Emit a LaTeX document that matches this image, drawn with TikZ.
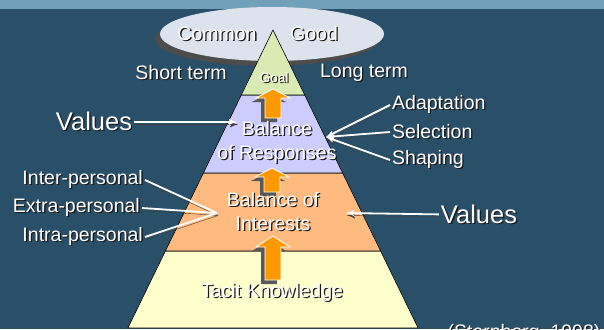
\documentclass[tikz,border=0pt]{standalone}
\usepackage{fontspec}
\setmainfont{Liberation Sans}
\usetikzlibrary{arrows}

\definecolor{bgblue}{RGB}{42,79,104}
\definecolor{topblue}{RGB}{112,160,186}
\definecolor{cloud}{RGB}{221,227,236}
\definecolor{goalgreen}{RGB}{217,235,178}
\definecolor{resplilac}{RGB}{204,204,255}
\definecolor{intorange}{RGB}{255,187,127}
\definecolor{tacityellow}{RGB}{255,255,204}
\definecolor{arrorange}{RGB}{255,153,0}

% text with a dark drop shadow
\newcommand\shd[1]{\leavevmode\rlap{\kern1.3pt\raisebox{-1.3pt}{\color{black!90}#1}}#1}

\begin{document}
\begin{tikzpicture}
			[x=1pt,y=-1pt,
			every node/.style={text=white,inner sep=2pt,font=\fontsize{19.5}{24}\selectfont},
			big/.style={font=\fontsize{25.5}{30}\selectfont},
			level/.style={draw=black,line width=0.6pt},
			uparrow/.style={fill=arrorange,draw=white,line width=0.8pt,
				preaction={fill=black!65,draw=none,transform canvas={shift={(-4pt,-4pt)}}}},
			link/.style={draw=white,line width=1.8pt,
				preaction={draw=black!75,transform canvas={shift={(1pt,-2.5pt)}}}},
			edge/.style={link,-latex'}]
			\useasboundingbox (0,0) rectangle (604,329);
			\fill[bgblue] (0,0) rectangle (604,329);
			\fill[topblue] (0,0) rectangle (604,9);
			
			% common good
			\fill[black!70] (267,39) ellipse [x radius=112,y radius=27];
			\fill[cloud] (272,34) ellipse [x radius=112,y radius=27];
			
			% pyramid
			\filldraw[level,fill=tacityellow] (165.4,251) -- (380.6,251) -- (418.1,328) -- (127.9,328) -- cycle;
			\filldraw[level,fill=intorange] (203.4,173) -- (342.6,173) -- (380.6,251) -- (165.4,251) -- cycle;
			\filldraw[level,fill=resplilac] (241.3,95) -- (304.7,95) -- (342.6,173) -- (203.4,173) -- cycle;
			\filldraw[level,fill=goalgreen] (273,30) -- (304.7,95) -- (241.3,95) -- cycle;
			
			\foreach \x/\t/\h/\b in {273/236/247/280, 272/168/177/192, 273/89/98/118}
			\filldraw[uparrow] (\x,\t) -- (\x+17,\h) -- (\x+8,\h) -- (\x+8,\b) -- (\x-8,\b) -- (\x-8,\h) -- (\x-17,\h) -- cycle;
			
			\node (common) at (217,34) {\shd{Common}};
			\node (good) at (314,34) {\shd{Good}};
			\node (short) at (181,73) {\shd{Short term}};
			\node (long) at (364,73) {\shd{Long term}};
			\node[font=\fontsize{13.5}{15}\selectfont] (goal) at (274,78) {\shd{Goal}};
			\node[align=center] (resp) at (277,143) {\shd{Balance}\\\shd{of Responses}};
			\node[align=center] (inter) at (273,212) {\shd{Balance of}\\\shd{Interests}};
			\node (tacit) at (272,293) {\shd{Tacit Knowledge}};
			
			\node[big] (valL) at (94,122) {\shd{Values}};
			\node[big] (valR) at (479,215) {\shd{Values}};
			\node[anchor=west] (adapt) at (390,105) {\shd{Adaptation}};
			\node[anchor=west] (select) at (390,132) {\shd{Selection}};
			\node[anchor=west] (shape) at (390,160) {\shd{Shaping}};
			\node[anchor=east] (interp) at (145,180) {\shd{Inter-personal}};
			\node[anchor=east] (extrap) at (142,208) {\shd{Extra-personal}};
			\node[anchor=east] (intrap) at (145,237) {\shd{Intra-personal}};
			\node[anchor=north,inner sep=0pt] (cite) at (524,324) {\shd{(Sternberg, 1998)}};
			
			\coordinate (respin) at (237,122);
			\coordinate (respout) at (326,137);
			\coordinate (intin) at (217,213);
			\coordinate (intout) at (346,213);
			
			\draw[edge] (valL) -- (respin);
			\foreach \from in {adapt,select,shape}
			\draw[edge] (\from.west) -- (respout);
			\foreach \from in {interp,extrap,intrap}
			\draw[link] (\from.east) -- (intin);
			\draw[edge] (valR) -- (intout);
			\end{tikzpicture}
\end{document}
